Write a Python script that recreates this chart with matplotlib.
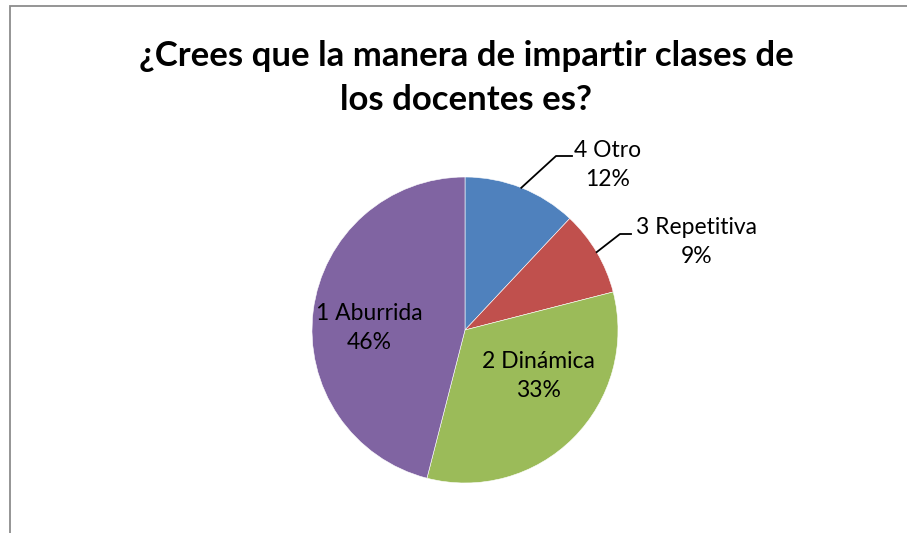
import matplotlib
matplotlib.use("Agg")
import numpy as np
import matplotlib.pyplot as plt
from matplotlib.patches import Rectangle

# data
categories = ["4 Otro", "3 Repetitiva", "2 Dinámica", "1 Aburrida"]
values = [12, 9, 33, 46]
colors = ["#4F81BD", "#C0504D", "#9BBB59", "#8064A2"]
title = "¿Crees que la manera de impartir clases de\nlos docentes es?"

plt.rcParams['font.family'] = ['Lato', 'DejaVu Sans']

W, H = 907, 533
fig = plt.figure(figsize=(W / 100, H / 100), dpi=100)
ax = fig.add_axes([0, 0, 1, 1])

# chart border (cut off at right/bottom like the source)
ax.add_patch(Rectangle((9.5, -20), W + 40, H - 6 + 20, fill=False,
                       edgecolor='#8c8c8c', lw=1.3))

cx, cy, r = 465, H - 330, 153
wedges, _ = ax.pie(values, colors=colors, startangle=90, counterclock=False,
                   center=(cx, cy), radius=r, frame=True,
                   wedgeprops=dict(edgecolor='white', linewidth=0.4))
ax.set_xlim(0, W)
ax.set_ylim(0, H)
ax.set_aspect('equal')
ax.axis('off')

ax.text(466, H - 78, title, ha='center', va='center', fontsize=25,
        fontweight='bold', linespacing=1.5)

# label positions (pixel coords, top-origin) and whether they get a leader line
label_pos = [(608, 165), (697, 242), (538, 376), (369, 328)]
leaders = [True, True, False, False]

for w, name, v, (lx, ly), lead in zip(wedges, categories, values, label_pos, leaders):
    ax.text(lx, H - ly, f"{name}\n{v}%", ha='center', va='center',
            fontsize=16.5, linespacing=1.45)
    if lead:
        mid = np.radians((w.theta1 + w.theta2) / 2)
        ex, ey = cx + r * np.cos(mid), cy + r * np.sin(mid)
        if name.startswith("4"):
            xs, ys = [ex, 556, 572], [ey, H - 156, H - 156]
        else:
            xs, ys = [ex, 620, 631], [ey, H - 234, H - 234]
        ax.plot(xs, ys, color='black', lw=1.3)

fig.savefig("out.png", dpi=100)
